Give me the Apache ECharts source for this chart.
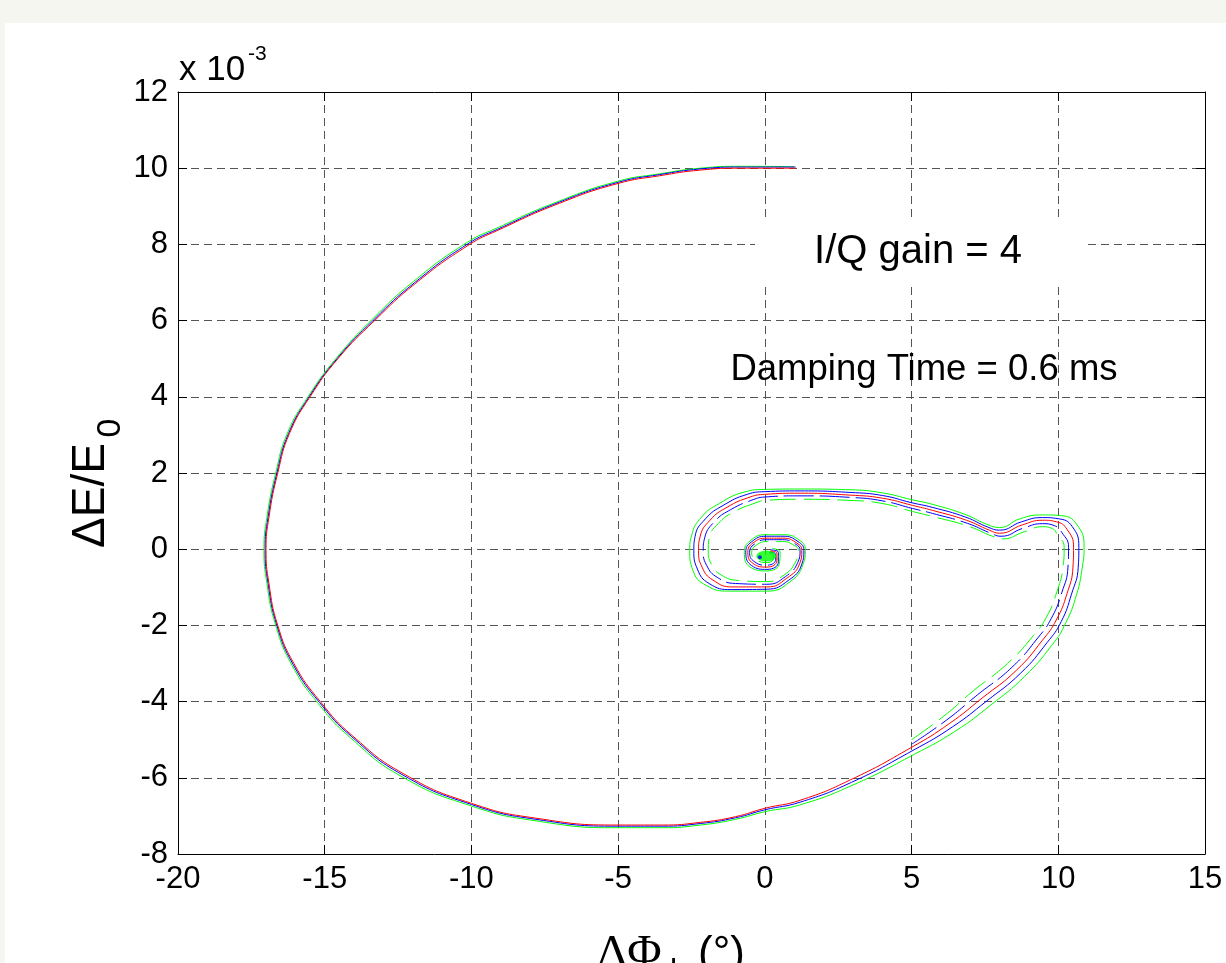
<!DOCTYPE html>
<html>
<head>
<meta charset="utf-8">
<title>I/Q gain = 4</title>
<script src="https://cdn.jsdelivr.net/npm/echarts@6/dist/echarts.min.js"></script>
<style>
  html, body { margin: 0; padding: 0; background: #f6f6f1; }
  #chart { width: 1226px; height: 963px; }
</style>
</head>
<body>
<div id="chart"></div>
<script>
// tick values (y in units of 1e-3)
const xTicks = [-20, -15, -10, -5, 0, 5, 10, 15];
const yTicks = [-8, -6, -4, -2, 0, 2, 4, 6, 8, 10, 12];

// centre trajectory (red)
const redPath = [
  [1.05,10.0],[-0.8,10.0],[-2.2,9.95],[-3.6,9.8],[-5.0,9.6],[-7.0,9.08],[-9.1,8.37],[-10.1,7.98],[-11.9,6.98],
  [-13.3,6.0],[-14.55,5.0],[-15.5,4.0],[-16.2,3.04],[-16.6,2.0],[-16.9,0.84],[-17.0,0],[-16.9,-0.9],
  [-16.6,-2.0],[-16.05,-3.0],[-15.15,-4.0],[-14.05,-4.9],[-12.3,-5.9],[-10.0,-6.67],[-7.8,-7.06],[-5.0,-7.24],
  [-3.5,-7.24],[-2.2,-7.17],[-1.0,-7.02],[0,-6.8],[1.2,-6.59],[2.9,-6.06],[5.0,-5.2],[6.3,-4.57],[7.4,-3.91],[8.57,-3.18],
  [9.46,-2.39],[9.93,-1.86],[10.3,-1.16],[10.5,-0.47],[10.52,0.05],[10.3,0.52],[9.93,0.72],[9.46,0.76],
  [8.78,0.64],[8.0,0.42],[7.65,0.5],[6.87,0.76],[5.71,1.02],[5.03,1.15],[4.0,1.34],[2.9,1.42],
  [1.2,1.47],[0,1.44],[-0.5,1.37],[-1.29,1.1],[-1.87,0.76],[-2.21,0.32],[-2.26,-0.03],[-2.14,-0.47],
  [-1.77,-0.81],[-1.09,-0.99],[0.07,-0.99],[0.75,-0.76],[1.19,-0.37],[1.26,-0.03],[1.09,0.16],[0.61,0.29],
  [0.07,0.29],[-0.41,0.16],[-0.58,-0.08],[-0.41,-0.37],[0.07,-0.47],[0.41,-0.29],[0.41,-0.1],[0.17,-0.05]
];

// neighbouring trajectories, outer side
const blueOuter = [
  [1.05,10.03],[-0.8,10.03],[-2.2,9.98],[-3.6,9.83],[-5.0,9.63],[-7.0,9.11],[-9.1,8.4],[-10.13,8.01],[-11.93,7.0],
  [-13.33,6.02],[-14.58,5.0],[-15.53,4.0],[-16.23,3.04],[-16.63,2.0],[-16.93,0.84],[-17.03,0],[-16.93,-0.9],
  [-16.63,-2.0],[-16.08,-3.02],[-15.18,-4.02],[-14.08,-4.92],[-12.33,-5.93],[-10.0,-6.7],[-7.8,-7.09],[-5.0,-7.27],
  [-3.5,-7.27],[-2.2,-7.2],[-1.0,-7.05],[0,-6.84],[1.2,-6.64],[2.95,-6.12],[5.05,-5.28],[6.4,-4.66],[7.55,-3.99],[8.72,-3.25],
  [9.62,-2.45],[10.1,-1.9],[10.45,-1.18],[10.68,-0.47],[10.7,0.05],[10.47,0.6],[10.0,0.8],[9.46,0.83],
  [8.75,0.72],[8.0,0.5],[7.6,0.58],[6.85,0.84],[5.7,1.1],[5.0,1.22],[4.0,1.41],[2.9,1.49],
  [1.2,1.53],[0,1.51],[-0.6,1.44],[-1.42,1.15],[-2.02,0.8],[-2.38,0.33],[-2.42,-0.03],[-2.3,-0.52],
  [-1.9,-0.9],[-1.15,-1.06],[0.07,-1.05],[0.8,-0.82],[1.26,-0.39],[1.33,-0.03],[1.13,0.2],[0.62,0.34],
  [0.05,0.34],[-0.46,0.19],[-0.65,-0.08],[-0.45,-0.43],[0.07,-0.53],[0.46,-0.33],[0.46,-0.08],[0.2,-0.02]
];
const greenOuter = [
  [1.0,10.04],[-0.8,10.05],[-2.2,10.0],[-3.6,9.85],[-5.0,9.66],[-7.0,9.14],[-9.13,8.43],[-10.17,8.04],[-11.97,7.03],
  [-13.37,6.04],[-14.62,5.0],[-15.57,4.0],[-16.27,3.05],[-16.67,2.0],[-16.97,0.84],[-17.07,0],[-16.97,-0.9],
  [-16.67,-2.0],[-16.12,-3.04],[-15.22,-4.05],[-14.12,-4.95],[-12.37,-5.97],[-10.0,-6.74],[-7.8,-7.13],[-5.0,-7.31],
  [-3.5,-7.31],[-2.2,-7.24],[-1.0,-7.09],[0,-6.89],[1.2,-6.71],[3.0,-6.19],[5.1,-5.38],[6.5,-4.77],[7.7,-4.09],[8.85,-3.34],
  [9.8,-2.5],[10.25,-1.94],[10.62,-1.2],[10.82,-0.47],[10.88,0.05],[10.62,0.66],[10.1,0.88],[9.46,0.9],
  [8.7,0.8],[8.0,0.57],[7.55,0.66],[6.8,0.92],[5.7,1.18],[5.0,1.3],[4.0,1.48],[2.9,1.56],
  [1.2,1.58],[0,1.57],[-0.7,1.5],[-1.55,1.2],[-2.15,0.85],[-2.5,0.35],[-2.56,-0.03],[-2.45,-0.56],
  [-2.0,-0.95],[-1.2,-1.1],[0.07,-1.1],[0.85,-0.86],[1.3,-0.4],[1.38,-0.03],[1.17,0.24],[0.62,0.38],
  [0.03,0.38],[-0.5,0.22],[-0.7,-0.08],[-0.5,-0.47],[0.07,-0.57],[0.5,-0.36],[0.52,-0.08],[0.25,0.02]
];

// neighbouring trajectories, inner side (drawn broken, as in the plot)
const blueInner = [
  [5.0,-5.12],[6.2,-4.48],[7.25,-3.82],[8.42,-3.1],[9.3,-2.33],[9.76,-1.82],[10.12,-1.14],[10.33,-0.47],
  [10.35,0.05],[10.12,0.44],[9.86,0.62],[9.46,0.67],[8.8,0.55],[8.05,0.34],[7.7,0.42],[6.9,0.68],
  [5.71,0.94],[5.03,1.07],[4.0,1.27],[2.9,1.36],[1.2,1.4],[0,1.37],[-0.4,1.3],[-1.16,1.04],
  [-1.72,0.72],[-2.05,0.3],[-2.1,-0.03],[-1.98,-0.43],[-1.62,-0.74],[-1.0,-0.9],[0.07,-0.92],[0.7,-0.72],
  [1.12,-0.35],[1.2,-0.03],[1.05,0.13],[0.6,0.25],[0.08,0.25],[-0.36,0.13],[-0.52,-0.08],[-0.37,-0.32],
  [0.07,-0.42],[0.37,-0.26],[0.36,-0.12],[0.15,-0.08]
];
const greenInner = [
  [5.0,-5.0],[6.1,-4.38],[7.1,-3.72],[8.27,-3.0],[9.15,-2.27],[9.6,-1.78],[9.95,-1.12],[10.16,-0.47],
  [10.2,0.05],[9.97,0.38],[9.8,0.54],[9.46,0.59],[8.85,0.46],[8.1,0.27],[7.75,0.34],[6.95,0.6],
  [5.71,0.86],[5.03,0.99],[4.0,1.2],[2.9,1.28],[1.2,1.31],[0,1.28],[-0.3,1.22],[-1.05,0.98],
  [-1.58,0.68],[-1.9,0.28],[-1.93,-0.03],[-1.83,-0.38],[-1.5,-0.67],[-0.9,-0.82],[0.07,-0.85],[0.65,-0.68],
  [1.05,-0.33],[1.14,-0.03],[1.0,0.1],[0.6,0.2],[0.1,0.2],[-0.3,0.1],[-0.45,-0.1],[-0.3,-0.28],
  [0.1,-0.35],[0.3,-0.22],[0.3,-0.12],[0.15,-0.12]
];

// end points that pile up in the centre
const greenCore = [[0.05, -0.18]];
const blueCore = [[-0.17, -0.21]];

const FONT = '"Liberation Sans", Arial, Helvetica, sans-serif';
const SERIF = '"Liberation Serif", "Times New Roman", serif';

const chart = echarts.init(document.getElementById('chart'), null, { renderer: 'canvas' });

function trace(data, color, dash) {
  return {
    type: 'line',
    data: data,
    showSymbol: false,
    smooth: 0.5,
    silent: true,
    lineStyle: { color: color, width: 1, type: dash || 'solid' },
    animation: false
  };
}

const xBase = {
  type: 'value',
  min: xTicks[0],
  max: xTicks[xTicks.length - 1],
  interval: xTicks[1] - xTicks[0],
  axisLine: { show: true, onZero: false, lineStyle: { color: '#000', width: 1 } },
  axisTick: { show: true, inside: true, length: 9, lineStyle: { color: '#000' } }
};
const yBase = {
  type: 'value',
  min: yTicks[0],
  max: yTicks[yTicks.length - 1],
  interval: yTicks[1] - yTicks[0],
  axisLine: { show: true, onZero: false, lineStyle: { color: '#000', width: 1 } },
  axisTick: { show: true, inside: true, length: 9, lineStyle: { color: '#000' } }
};
const gridDash = { show: true, lineStyle: { color: '#555', width: 1, type: [8, 5] } };

const option = {
  backgroundColor: '#f6f6f1',
  animation: false,
  grid: { left: 178, right: 21, top: 92, bottom: 109, containLabel: false },
  xAxis: [
    Object.assign({}, xBase, {
      position: 'bottom',
      axisLabel: { color: '#000', fontSize: 31, fontFamily: FONT, margin: 10 },
      splitLine: gridDash
    }),
    Object.assign({}, xBase, {
      position: 'top',
      axisLabel: { show: false },
      splitLine: { show: false }
    })
  ],
  yAxis: [
    Object.assign({}, yBase, {
      position: 'left',
      axisLabel: { color: '#000', fontSize: 31, fontFamily: FONT, margin: 10 },
      splitLine: gridDash
    }),
    Object.assign({}, yBase, {
      position: 'right',
      axisLabel: { show: false },
      splitLine: { show: false }
    })
  ],
  graphic: [
    { type: 'rect', z: -100, shape: { x: 5, y: 23, width: 1221, height: 940 }, style: { fill: '#fff' } },
    { type: 'rect', z: 50, shape: { x: 755, y: 218, width: 328, height: 67 }, style: { fill: '#fff' } },
    { type: 'text', z: 60, x: 918, y: 252,
      style: { text: 'I/Q gain = 4', fill: '#000', font: '40px ' + FONT, align: 'center', verticalAlign: 'middle' } },
    { type: 'text', z: 60, x: 924, y: 370,
      style: { text: 'Damping Time = 0.6 ms', fill: '#000', font: '36.5px ' + FONT, align: 'center', verticalAlign: 'middle' } },
    { type: 'text', z: 60, x: 179, y: 70,
      style: { text: 'x 10', fill: '#000', font: '35px ' + FONT, align: 'left', verticalAlign: 'middle' } },
    { type: 'text', z: 60, x: 248, y: 54,
      style: { text: '-3', fill: '#000', font: '21px ' + FONT, align: 'left', verticalAlign: 'middle' } },
    { type: 'text', z: 60, x: 91, y: 548, rotation: Math.PI / 2,
      style: { text: 'ΔE/E', fill: '#000', font: '46px ' + FONT, align: 'left', verticalAlign: 'middle' } },
    { type: 'text', z: 60, x: 111, y: 428, rotation: Math.PI / 2,
      style: { text: '0', fill: '#000', font: '34px ' + FONT, align: 'center', verticalAlign: 'middle' } },
    { type: 'text', z: 60, x: 597, y: 955,
      style: { text: 'ΔΦ', fill: '#000', font: '47px ' + SERIF, align: 'left', verticalAlign: 'middle' } },
    { type: 'text', z: 60, x: 670, y: 972,
      style: { text: 'b', fill: '#000', font: '32px ' + FONT, align: 'left', verticalAlign: 'middle' } },
    { type: 'text', z: 60, x: 698, y: 955,
      style: { text: '(°)', fill: '#000', font: '44px ' + FONT, align: 'left', verticalAlign: 'middle' } }
  ],
  series: [
    trace(greenOuter, '#00ff00'),
    trace(greenInner, '#00ff00', [26, 8]),
    trace(blueOuter, '#0000ff'),
    trace(blueInner, '#0000ff', [30, 6]),
    trace(redPath, '#ff0000'),
    { type: 'scatter', data: greenCore, symbol: 'circle', symbolSize: [20, 11], silent: true,
      itemStyle: { color: '#00ff00' }, z: 3 },
    { type: 'scatter', data: blueCore, symbol: 'circle', symbolSize: 4, silent: true,
      itemStyle: { color: '#0000ff' }, z: 4 }
  ]
};

chart.setOption(option);
</script>
</body>
</html>
